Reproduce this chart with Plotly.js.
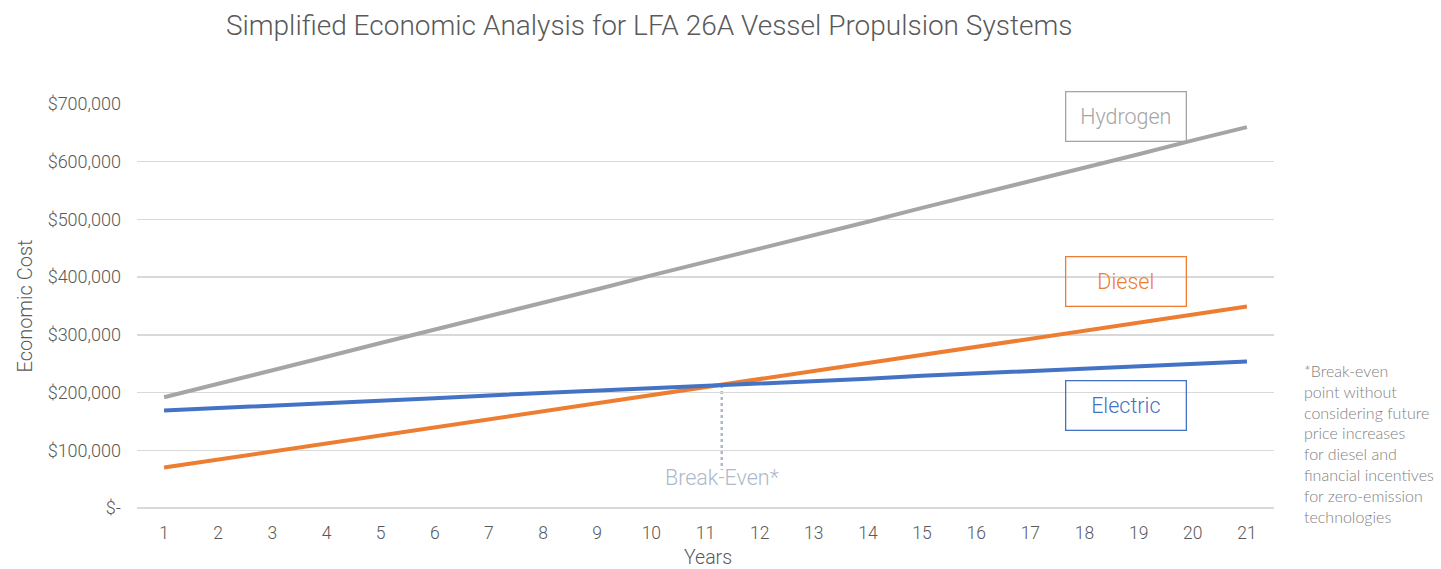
<!DOCTYPE html>
<html>
<head>
<meta charset="utf-8">
<script src="https://cdn.plot.ly/plotly-3.0.1.min.js"></script>
<style>html,body{margin:0;padding:0;background:#fff;}#chart{width:1441px;height:569px;}</style>
</head>
<body>
<div id="chart"></div>
<script>
const years = [1,2,3,4,5,6,7,8,9,10,11,12,13,14,15,16,17,18,19,20,21];
const hydrogen = [192000,215000,239000,262000,286000,309000,332000,356000,379000,403000,426000,449000,473000,496000,520000,543000,566000,590000,613000,637000,660000];
const diesel = [70000,84000,98000,112000,126000,140000,154000,168000,181000,195000,209000,223000,237000,251000,265000,279000,293000,307000,321000,335000,349000];
const electric = [169000,173000,178000,182000,186000,190000,195000,199000,203000,207000,212000,216000,220000,224000,229000,233000,237000,241000,246000,250000,254000];
const yTickVals = [0,100000,200000,300000,400000,500000,600000,700000];
const yTickText = ['$-','$100,000','$200,000','$300,000','$400,000','$500,000','$600,000','$700,000'];
const seriesNames = ['Hydrogen','Diesel','Electric'];
const seriesColors = ['#a5a5a5','#ed7d31','#4472c4'];
const breakEvenBottom = 66000;

// break-even: intersection of diesel and electric
let beX = null, beY = null;
for (let i = 0; i < years.length - 1; i++) {
  const d0 = diesel[i] - electric[i], d1 = diesel[i+1] - electric[i+1];
  if (d0 <= 0 && d1 > 0) {
    const t = d0 / (d0 - d1);
    beX = years[i] + t * (years[i+1] - years[i]);
    beY = diesel[i] + t * (diesel[i+1] - diesel[i]);
    break;
  }
}

const traces = [hydrogen, diesel, electric].map((v, k) => ({
  x: years, y: v, type: 'scatter', mode: 'lines', name: seriesNames[k],
  line: {color: seriesColors[k], width: 4, shape: 'linear'},
  hoverinfo: 'skip'
}));

const fontFam = 'Roboto, sans-serif';
const labelPos = [
  {name: 'Hydrogen', y: 679000, color: '#a5a5a5'},
  {name: 'Diesel', y: 392000, color: '#ed7d31'},
  {name: 'Electric', y: 177000, color: '#4472c4'}
];
const annotations = labelPos.map(l => ({
  x: 18.77, y: l.y, xref: 'x', yref: 'y', text: l.name, showarrow: false,
  font: {family: fontFam, size: 21.5, color: l.color, weight: 300},
  bordercolor: l.color, borderwidth: 1.3, borderpad: 1, width: 117, height: 46,
  bgcolor: 'rgba(255,255,255,0)', xanchor: 'center', yanchor: 'middle'
}));
annotations.push({
  x: beX, y: breakEvenBottom, xref: 'x', yref: 'y', text: 'Break-Even*', showarrow: false,
  font: {family: fontFam, size: 21.5, color: '#adb9ca', weight: 300},
  xanchor: 'center', yanchor: 'middle', yshift: -8
});
const L = 137, R = 167, T = 104, B = 61, W = 1441, H = 569;
const pw = W - L - R, ph = H - T - B;
annotations.push({
  x: (1302 - L) / pw, y: (H - B - 359) / ph, xref: 'paper', yref: 'paper', showarrow: false,
  text: '*Break-even<br>point without<br>considering future<br>price increases<br>for diesel and<br>financial incentives<br>for zero-emission<br>technologies',
  align: 'left', xanchor: 'left', yanchor: 'top',
  font: {family: 'Lato, sans-serif', size: 16, color: '#7f7f7f', weight: 300}
});
// x-axis title
annotations.push({
  x: (708 - L) / pw, y: (H - B - 557) / ph, xref: 'paper', yref: 'paper', showarrow: false,
  text: 'Years', xanchor: 'center', yanchor: 'middle', borderpad: 0,
  font: {family: fontFam, size: 19.5, color: '#595959', weight: 300}
});

const layout = {
  width: W, height: H,
  margin: {l: L, r: R, t: T, b: B, pad: 0},
  paper_bgcolor: '#ffffff', plot_bgcolor: '#ffffff',
  showlegend: false,
  title: {
    text: 'Simplified Economic Analysis for LFA 26A Vessel Propulsion Systems',
    font: {family: fontFam, size: 28, color: '#595959', weight: 300},
    x: 0.4505, xref: 'container', xanchor: 'center', y: 0.955, yref: 'container', yanchor: 'middle'
  },
  xaxis: {
    range: [0.5, 21.5], tickvals: years, ticktext: years.map(String),
    showgrid: false, zeroline: false, showline: false, ticks: '',
    tickfont: {family: fontFam, size: 17.5, color: '#595959', weight: 300},
    ticklabelstandoff: 12,
    fixedrange: true
  },
  yaxis: {
    range: [0, 700000], tickvals: yTickVals, ticktext: yTickText,
    showgrid: true, gridcolor: '#d9d9d9', gridwidth: 1.3,
    zeroline: true, zerolinecolor: '#d9d9d9', zerolinewidth: 1.3,
    showline: false, ticks: '',
    tickfont: {family: fontFam, size: 18, color: '#595959', weight: 300},
    ticklabelstandoff: 15,
    title: {text: 'Economic Cost', font: {family: fontFam, size: 20, color: '#595959', weight: 300}, standoff: 9},
    fixedrange: true
  },
  shapes: [{
    type: 'line', xref: 'x', yref: 'y', x0: beX, x1: beX, y0: beY, y1: breakEvenBottom,
    line: {color: '#adb9ca', width: 2.5, dash: 'dot'}, layer: 'below'
  }],
  annotations: annotations
};

Plotly.newPlot('chart', traces, layout, {displayModeBar: false, staticPlot: true});
</script>
</body>
</html>
